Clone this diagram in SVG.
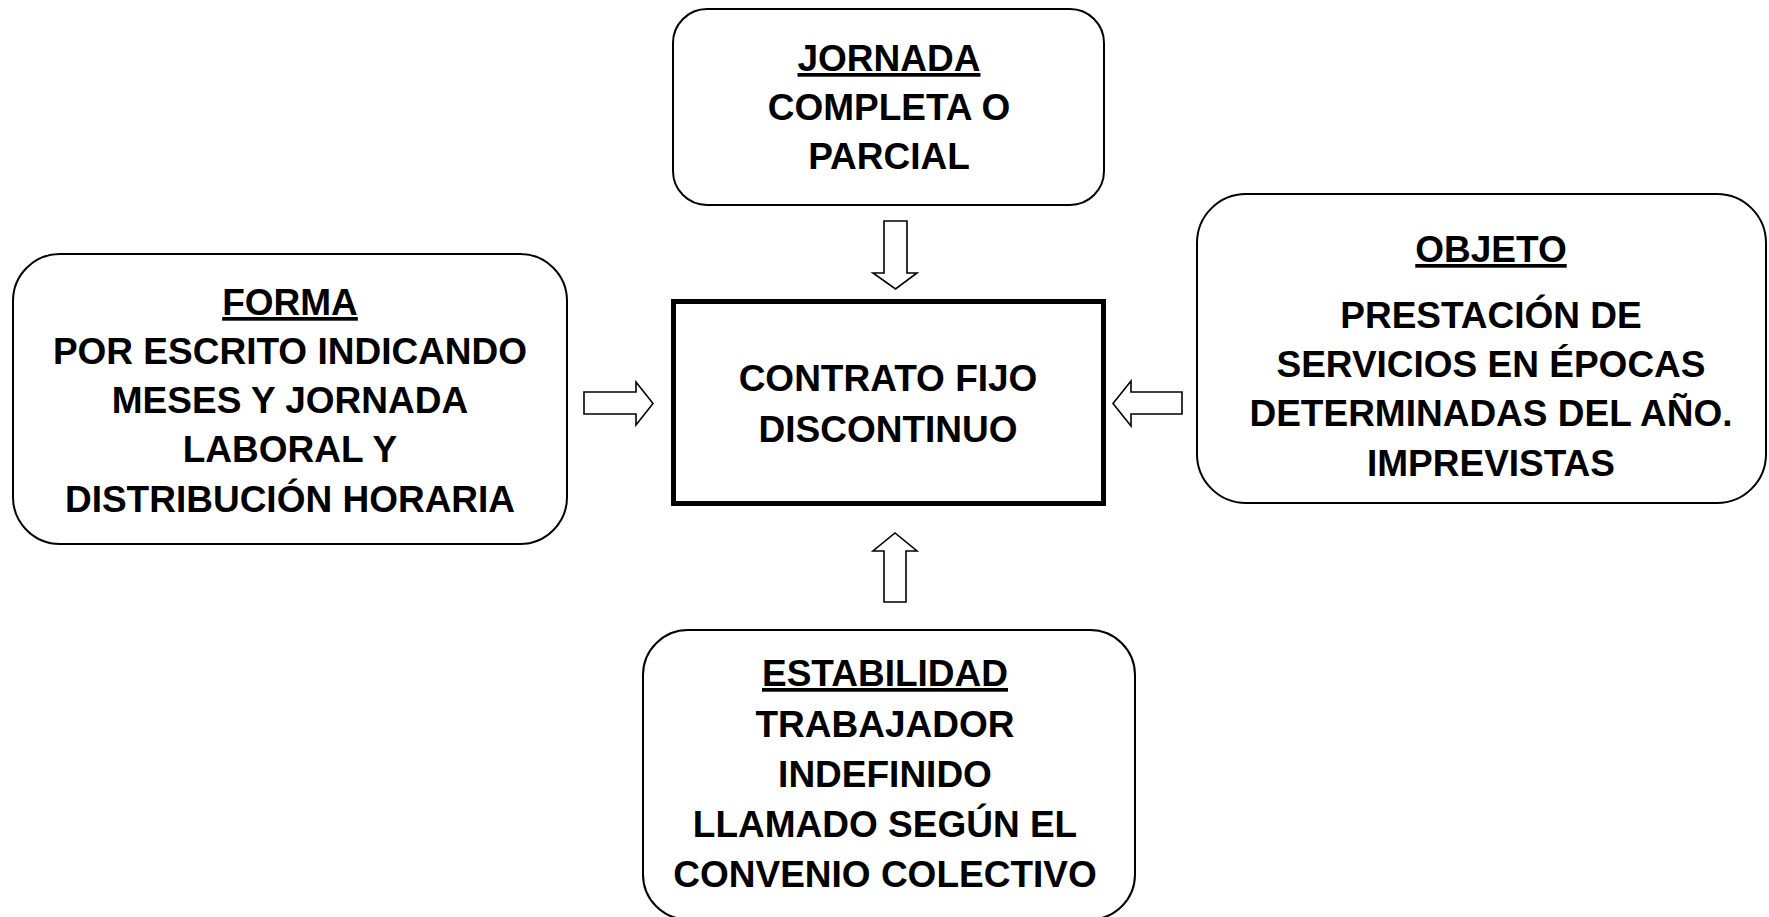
<svg xmlns="http://www.w3.org/2000/svg" width="1769" height="917" viewBox="0 0 1769 917">
<style>
  .box { fill: #ffffff; stroke: #000000; stroke-width: 2; }
  .main { fill: #ffffff; stroke: #000000; stroke-width: 5; }
  .arrow { fill: #ffffff; stroke: #000000; stroke-width: 1.6; stroke-linejoin: miter; }
  text { font-family: "Liberation Sans", Arial, sans-serif; font-weight: bold; font-size: 37px; fill: #000000; text-anchor: middle; }
  .head { text-decoration: underline; }
</style>
<rect x="0" y="0" width="1769" height="917" fill="#ffffff"/>

<g id="connectors">
  <polygon class="arrow" points="884,221 907,221 907,273 917,273 895.5,289 873,273 884,273"/>
  <polygon class="arrow" points="884,602 906,602 906,551 917,551 895,533 873,551 884,551"/>
  <polygon class="arrow" points="584,392 636,392 636,382 653,403.5 636,425 636,414 584,414"/>
  <polygon class="arrow" points="1182,392 1131,392 1131,381 1113,403.5 1131,426 1131,414 1182,414"/>
</g>

<g id="node-jornada">
  <rect class="box" x="673" y="9" width="431" height="196" rx="34" ry="34"/>
  <text x="889" y="71" class="head">JORNADA</text>
  <text x="889" y="120">COMPLETA O</text>
  <text x="889" y="169">PARCIAL</text>
</g>

<g id="node-contrato">
  <rect class="main" x="673.5" y="301.5" width="430" height="202"/>
  <text x="888" y="391">CONTRATO FIJO</text>
  <text x="888" y="442">DISCONTINUO</text>
</g>

<g id="node-forma">
  <rect class="box" x="13" y="254" width="554" height="290" rx="47" ry="47"/>
  <text x="290" y="315" class="head">FORMA</text>
  <text x="290" y="364">POR ESCRITO INDICANDO</text>
  <text x="290" y="413">MESES Y JORNADA</text>
  <text x="290" y="462">LABORAL Y</text>
  <text x="290" y="512">DISTRIBUCIÓN HORARIA</text>
</g>

<g id="node-objeto">
  <rect class="box" x="1197" y="194" width="569" height="309" rx="49" ry="49"/>
  <text x="1491" y="262" class="head">OBJETO</text>
  <text x="1491" y="328">PRESTACIÓN DE</text>
  <text x="1491" y="377">SERVICIOS EN ÉPOCAS</text>
  <text x="1491" y="426">DETERMINADAS DEL AÑO.</text>
  <text x="1491" y="476">IMPREVISTAS</text>
</g>

<g id="node-estabilidad">
  <rect class="box" x="643" y="630" width="492" height="289.5" rx="45" ry="45"/>
  <text x="885" y="686" class="head">ESTABILIDAD</text>
  <text x="885" y="737">TRABAJADOR</text>
  <text x="885" y="787">INDEFINIDO</text>
  <text x="885" y="837">LLAMADO SEGÚN EL</text>
  <text x="885" y="887">CONVENIO COLECTIVO</text>
</g>
</svg>
